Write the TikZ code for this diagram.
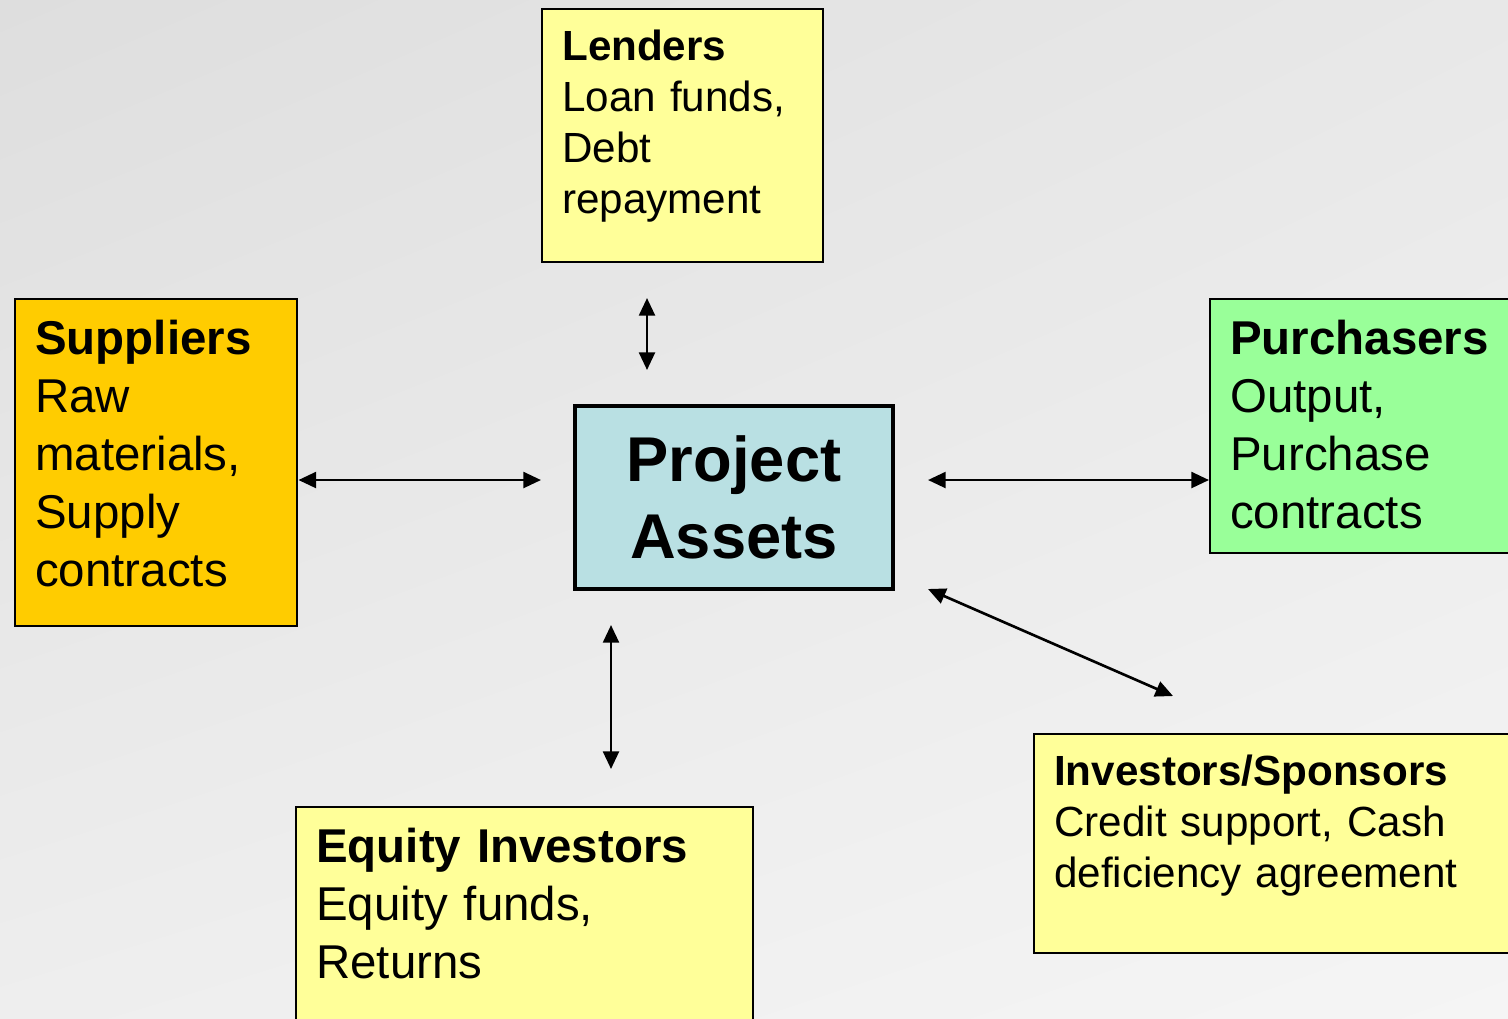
\documentclass[tikz,border=0pt]{standalone}
\usepackage{fontspec}
\setmainfont{Liberation Sans}
\usetikzlibrary{arrows.meta,positioning,calc,shadings}
\definecolor{pale}{HTML}{FFFF99}
\definecolor{gold}{HTML}{FFCC00}
\definecolor{mint}{HTML}{99FF99}
\definecolor{aqua}{HTML}{B9E0E3}
\definecolor{bgtl}{HTML}{DEDEDE}
\definecolor{bgtr}{HTML}{E8E8E8}
\definecolor{bgbl}{HTML}{EEEEEE}
\definecolor{bgbr}{HTML}{F5F5F5}
\newcommand{\who}[1]{\textbf{#1}\\}
\tikzset{
  party/.style={draw=black,line width=0.7pt,anchor=north west,align=left,inner sep=0.2cm},
  small/.style={party,text width=#1,text height=0.31cm,font=\fontsize{12}{14.5}\selectfont},
  large/.style={party,text width=#1,text height=0.35cm,font=\fontsize{13.5}{16.5}\selectfont},
  core/.style={draw=black,line width=1.4pt,fill=aqua,align=center,minimum width=3.18cm,minimum height=1.83cm,font=\fontsize{18}{22}\selectfont\bfseries},
  dbl/.style={{Triangle[length=5pt,width=4.5pt]}-{Triangle[length=5pt,width=4.5pt]},line width=0.75pt},
}
\begin{document}
\begin{tikzpicture}[x=1cm,y=-1cm]
\clip (0,0) rectangle (15.08,10.18);
\shade[upper left=bgtl,upper right=bgtr,lower left=bgbl,lower right=bgbr] (0,0) rectangle (15.08,10.18);

% the project and the parties round it
\node[core] (proj) at (7.34,4.975) {Project\\Assets};
\node[small=2.41cm,fill=pale,text depth=1.82cm] (lend) at (5.41,0.08) {\who{Lenders}Loan funds,\\Debt\\repayment};
\node[large=2.42cm,fill=gold,text depth=2.52cm] (sup) at (0.14,2.98) {\who{Suppliers}Raw\\materials,\\Supply\\contracts};
\node[large=3.2cm,fill=mint,text depth=1.79cm] (pur) at (12.09,2.98) {\who{Purchasers}Output,\\Purchase\\contracts};
\node[small=4.6cm,fill=pale,text depth=1.48cm] (inv) at (10.33,7.33) {\who{Investors/Sponsors}Credit support, Cash\\deficiency agreement};
\node[large=4.17cm,fill=pale,text depth=2.6cm] (eq) at (2.95,8.06) {\who{Equity Investors}Equity funds,\\Returns};

% arrow ends
\coordinate (lendA) at (6.47,2.98);
\coordinate (lendB) at (6.47,3.70);
\coordinate (supB) at (5.41,4.80);
\coordinate (purA) at (9.28,4.80);
\coordinate (eqA) at (6.11,6.25);
\coordinate (eqB) at (6.11,7.69);
\coordinate (invA) at (9.28,5.89);
\coordinate (invB) at (11.73,6.96);

\draw[dbl] (lendA) -- (lendB);
\draw[dbl] (sup.east |- supB) -- (supB);
\draw[dbl] (purA) -- (pur.west |- purA);
\draw[dbl] (eqA) -- (eqB);
\draw[dbl] (invA) -- (invB);
\end{tikzpicture}
\end{document}
